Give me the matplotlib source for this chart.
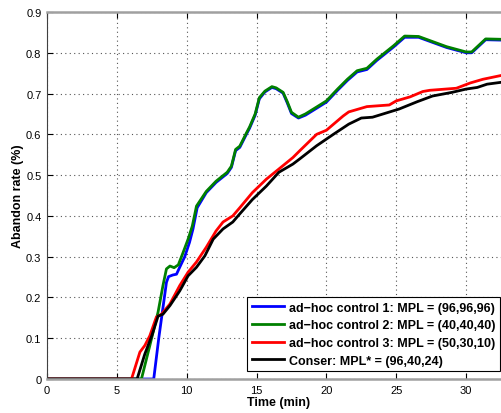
import matplotlib.pyplot as plt

plt.rcParams['font.family'] = ['Liberation Sans', 'DejaVu Sans']

# ad-hoc control 1 (blue)
t_blue = [0, 7.64, 8.0, 8.55, 8.7, 9.0, 9.27, 9.5, 9.86, 10.2, 10.45, 10.75, 11.4, 12.1, 12.9, 13.2,
          13.5, 13.8, 14.3, 14.5, 14.9, 15.2, 15.6, 16.1, 16.4, 16.9, 17.2, 17.5, 18.0, 18.5, 19.3,
          20.0, 20.8, 21.5, 22.2, 22.9, 23.6, 24.8, 25.6, 26.6, 27.4, 28.6, 30.0, 30.4, 31.4, 32.6]
v_blue = [0, 0, 0.10, 0.237, 0.251, 0.255, 0.257, 0.274, 0.30, 0.335, 0.368, 0.42, 0.457, 0.482, 0.504, 0.519,
          0.56, 0.568, 0.602, 0.615, 0.647, 0.687, 0.704, 0.715, 0.712, 0.701, 0.677, 0.651, 0.64, 0.647, 0.664,
          0.679, 0.708, 0.732, 0.753, 0.759, 0.781, 0.814, 0.838, 0.838, 0.828, 0.813, 0.80, 0.80, 0.832, 0.831]

# ad-hoc control 2 (green)
t_green = [0, 6.76, 7.36, 7.95, 8.3, 8.55, 8.8, 9.1, 9.4, 9.74, 10.1, 10.4, 10.7, 11.4, 12.1, 12.9, 13.2,
           13.5, 13.8, 14.3, 14.5, 14.9, 15.2, 15.6, 16.1, 16.4, 16.9, 17.2, 17.5, 18.0, 18.5, 19.3,
           20.0, 20.8, 21.5, 22.2, 22.9, 23.6, 24.8, 25.6, 26.6, 27.4, 28.6, 30.0, 30.4, 31.4, 32.6]
v_green = [0, 0, 0.082, 0.164, 0.229, 0.27, 0.277, 0.273, 0.28, 0.31, 0.343, 0.375, 0.424, 0.46, 0.485, 0.507, 0.522,
           0.563, 0.571, 0.605, 0.618, 0.65, 0.69, 0.706, 0.717, 0.714, 0.703, 0.68, 0.654, 0.642, 0.65, 0.667,
           0.682, 0.711, 0.735, 0.756, 0.762, 0.784, 0.817, 0.841, 0.84, 0.83, 0.815, 0.802, 0.802, 0.834, 0.833]

# ad-hoc control 3 (red)
t_red = [0, 6.05, 6.65, 7.0, 7.36, 7.83, 8.2, 8.8, 9.5, 10.1, 10.7, 11.4, 12.1, 12.6, 13.3, 13.8, 14.7,
         15.7, 16.6, 17.6, 18.1, 19.3, 20.0, 21.2, 21.6, 22.9, 24.5, 25.0, 26.0, 26.9, 27.4, 29.3, 30.3,
         31.2, 32.6]
v_red = [0, 0, 0.066, 0.082, 0.106, 0.152, 0.159, 0.184, 0.229, 0.262, 0.287, 0.323, 0.363, 0.385, 0.40, 0.42, 0.457,
         0.49, 0.515, 0.543, 0.56, 0.60, 0.61, 0.645, 0.655, 0.668, 0.672, 0.682, 0.692, 0.705, 0.708, 0.713, 0.726,
         0.735, 0.745]

# Conser (black)
t_black = [0, 6.45, 7.0, 7.5, 7.95, 8.3, 8.8, 9.5, 10.1, 10.7, 11.3, 11.9, 12.6, 13.3, 13.8, 14.7, 15.7,
           16.6, 17.6, 18.1, 19.3, 20.5, 21.6, 22.5, 23.3, 25.2, 26.5, 27.6, 29.0, 30.0, 30.8, 31.5, 32.6]
v_black = [0, 0, 0.061, 0.106, 0.154, 0.159, 0.18, 0.216, 0.253, 0.274, 0.302, 0.343, 0.368, 0.385, 0.405, 0.44, 0.473,
           0.507, 0.527, 0.54, 0.572, 0.60, 0.625, 0.64, 0.642, 0.662, 0.68, 0.694, 0.703, 0.711, 0.715, 0.723, 0.728]

labels = ['ad\u2212hoc control 1: MPL = (96,96,96)',
          'ad\u2212hoc control 2: MPL = (40,40,40)',
          'ad\u2212hoc control 3: MPL = (50,30,10)',
          'Conser: MPL* = (96,40,24)']

W, H = 502, 414
fig = plt.figure(figsize=(W / 100, H / 100), dpi=100)
ax = fig.add_axes([47 / W, (H - 380) / H, (W - 47) / W, (380 - 13) / H])

ax.plot(t_blue, v_blue, color='#0000ff', lw=2, label=labels[0])
ax.plot(t_green, v_green, color='#008000', lw=2, label=labels[1])
ax.plot(t_red, v_red, color='#ff0000', lw=2, label=labels[2])
ax.plot(t_black, v_black, color='black', lw=2, label=labels[3])

ax.set_xlim(0, (W - 47) / 13.97)
ax.set_ylim(0, 0.9)
ax.set_xticks([0, 5, 10, 15, 20, 25, 30])
ax.set_yticks([i / 10 for i in range(10)])
ax.set_yticklabels(['0'] + ['%.1f' % (i / 10) for i in range(1, 10)])
ax.grid(True, linestyle=(0, (1, 3)), color='#555555', lw=0.8)
ax.tick_params(direction='in', labelsize=8, length=4, top=True, pad=4)

ax.spines['right'].set_visible(False)
ax.spines['top'].set_color('#a0a0a0')
ax.spines['bottom'].set_color('#a0a0a0')
ax.spines['top'].set_linewidth(1.8)
ax.spines['bottom'].set_linewidth(1.8)
ax.spines['left'].set_color('#404040')

ax.set_xlabel('Time (min)', fontsize=9, fontweight='bold')
ax.set_ylabel('Abandon rate (%)', fontsize=9, fontweight='bold')
ax.xaxis.set_label_coords((279 - 47) / (W - 47), -0.047)
ax.yaxis.set_label_coords(-0.05, 0.5)

leg = ax.legend(loc='lower right', bbox_to_anchor=(500 / W, (H - 372) / H),
                bbox_transform=fig.transFigure, prop={'size': 9, 'weight': 'bold'},
                fancybox=False, framealpha=1, edgecolor='black', handlelength=2.6,
                handletextpad=0.4, labelspacing=0.45, borderpad=0.35, borderaxespad=0)
leg.get_frame().set_linewidth(0.8)

fig.savefig('out.png', dpi=100)
